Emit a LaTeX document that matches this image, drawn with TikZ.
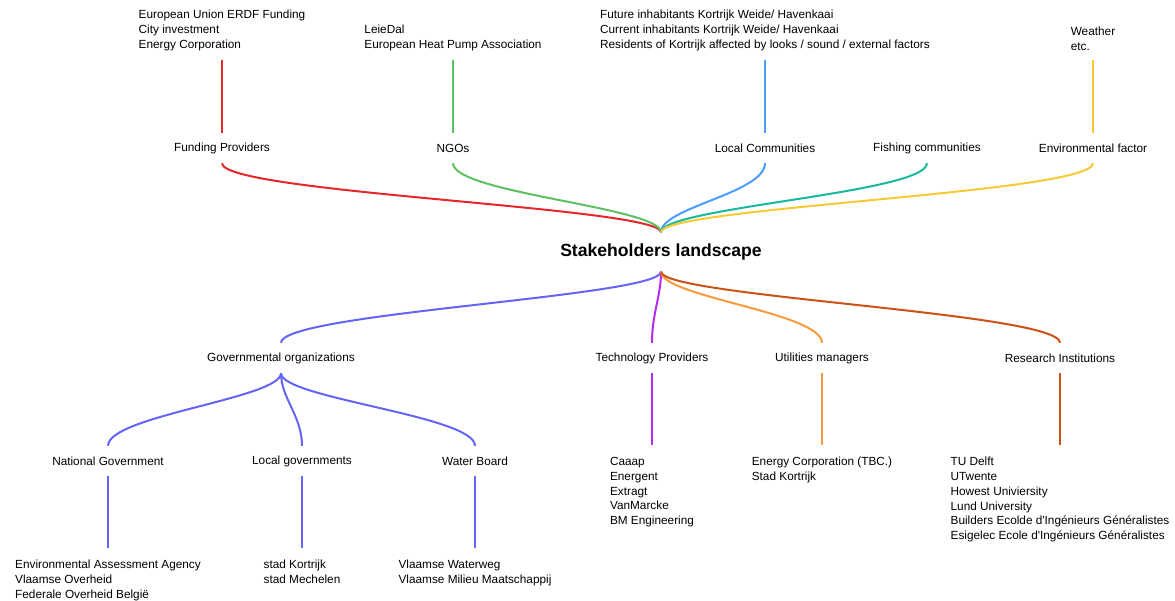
\documentclass[tikz,border=0pt]{standalone}
\usepackage{fontspec}
\setmainfont{Liberation Sans}
\definecolor{fundred}{HTML}{E5262B}
\definecolor{ngogreen}{HTML}{5CC160}
\definecolor{commblue}{HTML}{4A9EFF}
\definecolor{fishteal}{HTML}{17B89E}
\definecolor{envyellow}{HTML}{F7C933}
\definecolor{govviolet}{HTML}{6464F8}
\definecolor{techpurple}{HTML}{B42AF0}
\definecolor{utilorange}{HTML}{FA9A3C}
\definecolor{resorange}{HTML}{CC5214}

\begin{document}
\begin{tikzpicture}[x=1pt, y=-1pt,
    every node/.style={font=\fontsize{11.8}{14.8}\selectfont, inner sep=0pt},
    cat/.style={minimum height=30pt},
    list/.style={align=left, inner ysep=9pt},
    lowlist/.style={align=left, inner ysep=12pt},
    branch/.style={line width=2pt}]
    \useasboundingbox (0,0) rectangle (1175,601);
    % centre
    \node[font=\bfseries\fontsize{17.6}{20}\selectfont, minimum height=39pt] (hub) at (661,252) {Stakeholders landscape};
    % upper half
    \node[cat] (fund) at (222,148) {Funding Providers};
    \node[cat] (ngo) at (453,148) {NGOs};
    \node[cat] (comm) at (765,148) {Local Communities};
    \node[cat] (fish) at (927,148) {Fishing communities};
    \node[cat] (env) at (1093,148) {Environmental factor};
    \node[list, anchor=south] (fundlist) at (222,60) {European Union ERDF Funding\\City investment\\Energy Corporation};
    \node[list, anchor=south] (ngolist) at (453,60) {LeieDal\\European Heat Pump Association};
    \node[list, anchor=south] (commlist) at (765,60) {Future inhabitants Kortrijk Weide/ Havenkaai\\Current inhabitants Kortrijk Weide/ Havenkaai\\Residents of Kortrijk affected by looks / sound / external factors};
    \node[list, anchor=south] (envlist) at (1093,60) {Weather\\etc.};
    \draw[branch, fundred] (fundlist.south) -- (fund.north);
    \draw[branch, ngogreen] (ngolist.south) -- (ngo.north);
    \draw[branch, commblue] (commlist.south) -- (comm.north);
    \draw[branch, envyellow] (envlist.south) -- (env.north);
    \draw[branch, fundred] (fund.south) .. controls +(0,30) and +(0,-25) .. (hub.north);
    \draw[branch, ngogreen] (ngo.south) .. controls +(0,30) and +(0,-25) .. (hub.north);
    \draw[branch, commblue] (comm.south) .. controls +(0,30) and +(0,-25) .. (hub.north);
    \draw[branch, fishteal] (fish.south) .. controls +(0,30) and +(0,-25) .. (hub.north);
    \draw[branch, envyellow] (env.south) .. controls +(0,30) and +(0,-25) .. (hub.north);
    % lower half
    \node[cat] (gov) at (281,358) {Governmental organizations};
    \node[cat] (tech) at (652,358) {Technology Providers};
    \node[cat] (util) at (822,358) {Utilities managers};
    \node[cat] (res) at (1060,358) {Research Institutions};
    \node[cat] (natgov) at (108,461) {National Government};
    \node[cat] (locgov) at (302,461) {Local governments};
    \node[cat] (water) at (475,461) {Water Board};
    \draw[branch, govviolet] (hub.south) .. controls +(0,25) and +(0,-30) .. (gov.north);
    \draw[branch, techpurple] (hub.south) .. controls +(0,25) and +(0,-30) .. (tech.north);
    \draw[branch, utilorange] (hub.south) .. controls +(0,25) and +(0,-30) .. (util.north);
    \draw[branch, resorange] (hub.south) .. controls +(0,25) and +(0,-30) .. (res.north);
    \draw[branch, govviolet] (gov.south) .. controls +(0,25) and +(0,-30) .. (natgov.north);
    \draw[branch, govviolet] (gov.south) .. controls +(0,25) and +(0,-30) .. (locgov.north);
    \draw[branch, govviolet] (gov.south) .. controls +(0,25) and +(0,-30) .. (water.north);
    \node[lowlist, anchor=north] (techlist) at (652,445) {Caaap\\Energent\\Extragt\\VanMarcke\\BM Engineering};
    \node[lowlist, anchor=north] (utillist) at (822,445) {Energy Corporation (TBC.)\\Stad Kortrijk};
    \node[lowlist, anchor=north] (reslist) at (1060,445) {TU Delft\\UTwente\\Howest Univiersity\\Lund University\\Builders Ecolde d\textquotesingle Ingénieurs Généralistes\\Esigelec Ecole d\textquotesingle Ingénieurs Généralistes};
    \node[lowlist, anchor=north] (natlist) at (108,548) {Environmental Assessment Agency\\Vlaamse Overheid\\Federale Overheid België};
    \node[lowlist, anchor=north] (loclist) at (302,548) {stad Kortrijk\\stad Mechelen};
    \node[lowlist, anchor=north] (waterlist) at (475,548) {Vlaamse Waterweg\\Vlaamse Milieu Maatschappij};
    \draw[branch, techpurple] (tech.south) -- (techlist.north);
    \draw[branch, utilorange] (util.south) -- (utillist.north);
    \draw[branch, resorange] (res.south) -- (reslist.north);
    \draw[branch, govviolet] (natgov.south) -- (natlist.north);
    \draw[branch, govviolet] (locgov.south) -- (loclist.north);
    \draw[branch, govviolet] (water.south) -- (waterlist.north);
\end{tikzpicture}
\end{document}
